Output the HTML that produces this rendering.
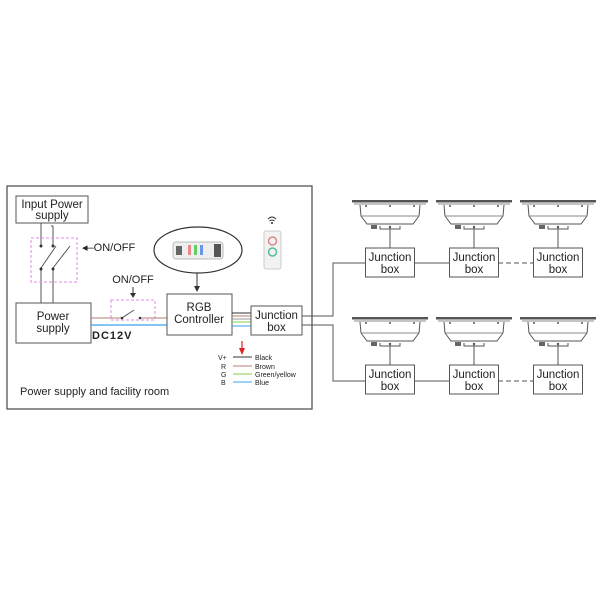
<!DOCTYPE html>
<html><head><meta charset="utf-8"><style>
html,body{margin:0;padding:0;background:#fff;}
svg{display:block;font-family:"Liberation Sans",Arial,sans-serif;}
</style></head><body>
<svg width="600" height="600" viewBox="0 0 600 600" xmlns="http://www.w3.org/2000/svg">
<rect width="600" height="600" fill="#fff"/>
<rect x="7" y="186" width="305" height="223" fill="none" stroke="#555" stroke-width="1.3"/>
<rect x="16" y="196" width="72" height="27" fill="#fff" stroke="#555"/>
<text x="52" y="208" font-size="11.5" text-anchor="middle" fill="#222">Input Power</text>
<text x="52" y="219" font-size="11.5" text-anchor="middle" fill="#222">supply</text>
<g stroke="#555" stroke-width="1" fill="none">
<line x1="41" y1="223" x2="41" y2="246"/>
<line x1="53" y1="226" x2="53" y2="246"/>
<line x1="51" y1="226" x2="53" y2="226"/>
<line x1="41" y1="269" x2="41" y2="303"/>
<line x1="53" y1="269" x2="53" y2="303"/>
<line x1="41" y1="268" x2="56" y2="246"/>
<line x1="53" y1="268" x2="70" y2="246"/>
</g>
<circle cx="41" cy="246" r="1.5" fill="#333"/><circle cx="53" cy="246" r="1.5" fill="#333"/>
<circle cx="41" cy="269" r="1.5" fill="#333"/><circle cx="53" cy="269" r="1.5" fill="#333"/>
<rect x="31" y="238" width="46" height="44" fill="none" stroke="#e08ae0" stroke-dasharray="3,2"/>
<text x="82" y="251" font-size="11" fill="#222">◂–ON/OFF</text>
<rect x="16" y="303" width="75" height="40" fill="#fff" stroke="#555"/>
<text x="53" y="320" font-size="11.5" text-anchor="middle" fill="#222">Power</text>
<text x="53" y="332" font-size="11.5" text-anchor="middle" fill="#222">supply</text>
<text x="133" y="283" font-size="11" text-anchor="middle" fill="#222">ON/OFF</text>
<line x1="133" y1="287" x2="133" y2="296" stroke="#333"/><path d="M130,293 L133,298 L136,293Z" fill="#333"/>
<rect x="111" y="300" width="44" height="20" fill="none" stroke="#e08ae0" stroke-dasharray="3,2"/>
<line x1="91" y1="318" x2="122" y2="318" stroke="#b08070"/>
<line x1="122" y1="318" x2="134" y2="310" stroke="#555"/>
<line x1="140" y1="318" x2="167" y2="318" stroke="#b08070"/>
<circle cx="122" cy="318" r="1.3" fill="#333"/><circle cx="140" cy="318" r="1.3" fill="#333"/>
<line x1="91" y1="325" x2="167" y2="325" stroke="#3aa0e8" stroke-width="1.2"/>
<text x="92" y="339" font-size="11" font-weight="bold" fill="#222" letter-spacing="1">DC12V</text>
<ellipse cx="198" cy="250" rx="44" ry="23" fill="none" stroke="#333" stroke-width="1.2"/>
<rect x="173" y="242" width="50" height="17" rx="3" fill="#eee" stroke="#bbb"/>
<rect x="176" y="246" width="6" height="9" fill="#666"/><rect x="214" y="244" width="7" height="13" fill="#555"/>
<rect x="188" y="245" width="3" height="10" fill="#e88"/><rect x="194" y="245" width="3" height="10" fill="#6c6"/><rect x="200" y="245" width="3" height="10" fill="#69e"/>
<line x1="197" y1="273" x2="197" y2="288" stroke="#333"/><path d="M194,286 L197,292 L200,286Z" fill="#333"/>
<rect x="264" y="231" width="17" height="38" rx="2" fill="#f2f2f2" stroke="#ccc"/>
<circle cx="272.5" cy="241" r="4" fill="none" stroke="#d88" stroke-width="1.5"/>
<circle cx="272.5" cy="252" r="4" fill="none" stroke="#5b9" stroke-width="1.5"/>
<path d="M268,219 Q272,215 276,219" fill="none" stroke="#333"/><path d="M269.5,221 Q272,219 274.5,221" fill="none" stroke="#333"/><circle cx="272" cy="223" r="1" fill="#333"/>
<rect x="167" y="294" width="65" height="41" fill="#fff" stroke="#555"/>
<text x="199" y="311" font-size="11.5" text-anchor="middle" fill="#222">RGB</text>
<text x="199" y="323" font-size="11.5" text-anchor="middle" fill="#222">Controller</text>
<line x1="232" y1="313" x2="251" y2="313" stroke="#333"/>
<line x1="232" y1="316" x2="251" y2="316" stroke="#b08070"/>
<line x1="232" y1="319" x2="251" y2="319" stroke="#999"/>
<line x1="232" y1="322" x2="251" y2="322" stroke="#8c4"/>
<line x1="232" y1="326" x2="251" y2="326" stroke="#3aa0e8"/>
<rect x="251" y="306" width="51" height="29" fill="#fff" stroke="#555"/>
<text x="276.5" y="319" font-size="11.5" text-anchor="middle" fill="#222">Junction</text>
<text x="276.5" y="331" font-size="11.5" text-anchor="middle" fill="#222">box</text>
<line x1="242" y1="341" x2="242" y2="350" stroke="#d22" stroke-width="1.2"/><path d="M239,348 L242,355 L245,348Z" fill="#d22"/>
<g font-size="7" fill="#222">
<text x="218" y="360">V+</text><text x="221" y="369">R</text><text x="221" y="377">G</text><text x="221" y="385">B</text>
<text x="255" y="360">Black</text><text x="255" y="369">Brown</text><text x="255" y="377">Green/yellow</text><text x="255" y="385">Blue</text>
</g>
<line x1="233" y1="357" x2="252" y2="357" stroke="#333"/>
<line x1="233" y1="366" x2="252" y2="366" stroke="#b08070"/>
<line x1="233" y1="374" x2="252" y2="374" stroke="#8c4"/>
<line x1="233" y1="382" x2="252" y2="382" stroke="#3aa0e8"/>
<text x="20" y="395" font-size="11" fill="#222">Power supply and facility room</text>
<g stroke="#555" fill="none">
<polyline points="302,316 333,316 333,263 366,263"/>
<polyline points="302,325 333,325 333,381 366,381"/>
<line x1="415" y1="263" x2="449" y2="263"/>
<line x1="415" y1="381" x2="449" y2="381"/>
<line x1="498" y1="263" x2="533" y2="263" stroke-dasharray="5,3"/>
<line x1="498" y1="381" x2="533" y2="381" stroke-dasharray="5,3"/>
</g>
<defs>
<g id="lamp">
<rect x="-38" y="0" width="76" height="2.5" fill="#555"/>
<line x1="-36" y1="4" x2="36" y2="4" stroke="#888"/>
<path d="M-30,5 L-29,16 L-23,24 L23,24 L29,16 L30,5" fill="#fff" stroke="#555"/>
<line x1="-29" y1="16" x2="29" y2="16" stroke="#888"/>
<circle cx="-24" cy="6" r="1" fill="#555"/><circle cx="0" cy="6" r="1" fill="#555"/><circle cx="24" cy="6" r="1" fill="#555"/>
<rect x="-19" y="25" width="6" height="4" fill="#666"/>
<path d="M-10,26 L-10,29 L10,29 L10,26" fill="none" stroke="#555"/>
<circle cx="0" cy="27" r="1.2" fill="#555"/>
<line x1="0" y1="28" x2="0" y2="48" stroke="#555"/>
</g>
<g id="jb">
<rect x="-24.5" y="0" width="49" height="29" fill="#fff" stroke="#555"/>
<text x="0" y="13" font-size="11.5" text-anchor="middle" fill="#222">Junction</text>
<text x="0" y="25" font-size="11.5" text-anchor="middle" fill="#222">box</text>
</g>
</defs>
<use href="#lamp" x="390" y="200"/><use href="#lamp" x="474" y="200"/><use href="#lamp" x="558" y="200"/>
<use href="#lamp" x="390" y="317"/><use href="#lamp" x="474" y="317"/><use href="#lamp" x="558" y="317"/>
<use href="#jb" x="390" y="248"/><use href="#jb" x="474" y="248"/><use href="#jb" x="558" y="248"/>
<use href="#jb" x="390" y="365"/><use href="#jb" x="474" y="365"/><use href="#jb" x="558" y="365"/>
</svg>
</body></html>
